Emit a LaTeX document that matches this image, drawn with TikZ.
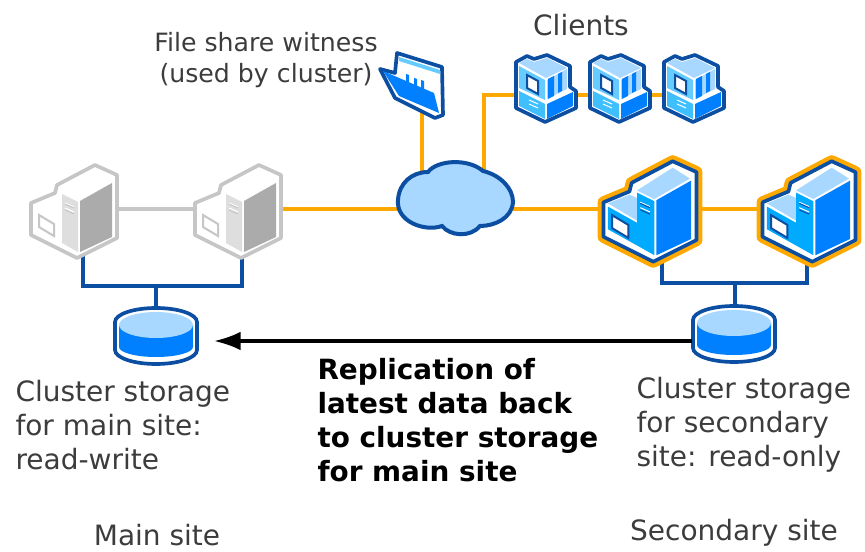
\documentclass[tikz,border=0pt]{standalone}
\usepackage{fontspec}
\usetikzlibrary{arrows.meta}
\setmainfont{DejaVu Sans}
\definecolor{navyline}{HTML}{0B4EA2}
\definecolor{faceblue}{HTML}{0080FF}
\definecolor{stripblue}{HTML}{00AAFF}
\definecolor{lightblue}{HTML}{A8D8FF}
\definecolor{halo}{HTML}{FFA800}
\definecolor{greyline}{HTML}{C6C6C6}
\definecolor{greyface}{HTML}{ABABAB}
\definecolor{greystrip}{HTML}{DEDEDE}
\definecolor{labelgrey}{HTML}{3C3C3C}
\tikzset{every picture/.style={line width=0.75pt}}
\tikzset{
	anchorbox/.style={inner sep=0pt, outer sep=0pt, minimum size=4pt},
	icon/.style={yscale=-1},
	lan/.style={draw=halo, line width=3pt},
	heartbeat/.style={draw=greyline, line width=3pt},
	fibre/.style={draw=navyline, line width=2.75pt},
	copyarrow/.style={draw=black, line width=2.5pt, -{Latex[length=20pt,width=14pt]}, shorten >=12pt},
	sitelabel/.style={font=\fontsize{21}{25.5}\selectfont, text=labelgrey, align=left, inner sep=0pt},
	footlabel/.style={font=\fontsize{21}{25.5}\selectfont, text=labelgrey, inner sep=0pt},
	boldlabel/.style={font=\fontsize{20.9}{25.5}\selectfont\bfseries, text=black, align=left, inner sep=0pt},
	witnesslabel/.style={font=\fontsize{18.9}{23}\selectfont, text=labelgrey, align=center, inner sep=0pt},
	pics/server/.style n args={6}{code={
		\draw [fill=white, draw=#1, line width=2.75pt, line join=round] (-43,-9) -- (-19,-19) -- (-17,-27) -- (21,-47) -- (43,-37) -- (43,26) -- (3,46) -- (-43,23) -- cycle;
		\fill [#2] (-12,-20) -- (21,-41) -- (37,-31) -- (4,-12) -- cycle;
		\fill [#2] (-39,-8) -- (-19,-16) -- (-12,-13) -- (-12,8) -- cycle;
		\fill [#5] (-39,-5) -- (-12,10) -- (-12,31) -- (-39,16) -- cycle;
		\draw [fill=white, draw=#6, line width=1.5pt] (-35,3) -- (-20,12) -- (-20,24) -- (-35,15) -- cycle;
		\fill [#3] (-12,-18) -- (4,-10) -- (4,40) -- (-12,31) -- cycle;
		\draw [white, line width=0.75pt] (-9,-9) -- (0,-5) (-9,-4) -- (0,0);
		\draw [#1, line width=0.75pt] (-9,-8) -- (0,-4) (-9,-2) -- (0,2);
		\fill [#4] (6,-11) -- (38,-29) -- (38,25) -- (6,40) -- cycle;
	}},
	pics/serverglow/.style={code={
		\draw [draw=halo, line width=9pt, line join=round] (-43,-9) -- (-19,-19) -- (-17,-27) -- (21,-47) -- (43,-37) -- (43,26) -- (3,46) -- (-43,23) -- cycle;
	}},
	pics/client/.style={code={
		\draw [fill=white, draw=navyline, line width=2.75pt, line join=round] (-30,-26) -- (-19,-32) -- (-12,-29) -- (1,-33) -- (24,-22) -- (24,-1) -- (30,3) -- (30,20) -- (-1,34) -- (-30,20) -- cycle;
		\fill [lightblue] (-27,-25) -- (-19,-29) -- (-12,-26) -- (1,-30) -- (21,-20) -- (0,-10) -- cycle;
		\fill [stripblue!60] (-27,-22) -- (-1,-8) -- (-1,12) -- (-27,0) -- cycle;
		\draw [fill=white, draw=navyline, line width=1.5pt] (-19,-13) -- (-8,-7) -- (-8,6) -- (-19,0) -- cycle;
		\fill [lightblue] (1,-8) -- (21,-19) -- (21,1) -- (1,11) -- cycle;
		\fill [faceblue] (2,-9) -- (8,-12) -- (8,8) -- (2,11) -- cycle;
		\fill [faceblue] (12,-14) -- (16,-16) -- (16,3) -- (12,5) -- cycle;
		\fill [stripblue!75] (-27,3) -- (-1,16) -- (-1,31) -- (-27,18) -- cycle;
		\draw [white] (-17,12) -- (-8,16) (-17,16) -- (-8,20);
		\fill [faceblue] (1,16) -- (27,4) -- (27,18) -- (1,31) -- cycle;
	}},
	pics/folder/.style={code={
		\draw [fill=white, draw=navyline, line width=2.75pt, line join=round] (-32,-16) -- (-17,-12) -- (-15,-32) -- (30,-18) -- (31,30) -- (23,33) -- (-17,13) -- cycle;
		\fill [stripblue!60] (-13,-28) -- (28,-15) -- (28,-11) -- (-13,-24) -- cycle;
		\fill [faceblue] (-6,-11) -- (-3,-10) -- (-3,-1) -- (-6,-2) -- cycle;
		\fill [faceblue] (2,-7) -- (5,-6) -- (5,3) -- (2,2) -- cycle;
		\fill [faceblue] (9,-5) -- (12,-4) -- (12,5) -- (9,4) -- cycle;
		\fill [faceblue] (-29,-14) -- (22,8) -- (27,28) -- (-13,11) -- cycle;
	}},
	pics/storage/.style={code={
		\draw [fill=white, draw=navyline, line width=2.75pt] (-41,0) arc [start angle=180, end angle=360, x radius=41, y radius=14] -- (41,28) arc [start angle=0, end angle=180, x radius=41, y radius=14] -- cycle;
		\fill [faceblue] (-37,3) -- (-37,25) arc [start angle=180, end angle=0, x radius=37, y radius=10] -- (37,3) -- cycle;
		\fill [lightblue] (0,3) ellipse [x radius=37, y radius=13];
	}}
}

\begin{document}
\begin{tikzpicture}[x=0.75pt,y=0.75pt,yscale=-1,xscale=1]
	\useasboundingbox (0,0) rectangle (865,552);

	% Anchors
	\node [anchorbox] (srvA) at (74,209) {};
	\node [anchorbox] (srvB) at (238,209) {};
	\node [anchorbox] (srvC) at (650,209) {};
	\node [anchorbox] (srvD) at (809,209) {};
	\node [anchorbox] (netcloud) at (455,209) {};
	\node [anchorbox] (witness) at (422,85) {};
	\node [anchorbox] (clientA) at (546,95) {};
	\node [anchorbox] (clientB) at (620,95) {};
	\node [anchorbox] (clientC) at (694,95) {};
	\node [anchorbox, minimum width=63pt, minimum height=51pt] (stgA) at (156,341) {};
	\node [anchorbox, minimum width=63pt, minimum height=51pt] (stgB) at (734,341) {};
	\coordinate (busA) at (156,286);
	\coordinate (busB) at (735,283);
	\coordinate (footA) at (83,240);
	\coordinate (footB) at (242,240);
	\coordinate (footC) at (662,240);
	\coordinate (footD) at (807,240);
	\coordinate (cloudtap) at (484,190);

	% Links
	\draw [heartbeat] (srvA) -- (srvB);
	\draw [lan] (srvB) -- (netcloud);
	\draw [lan] (netcloud) -- (srvC);
	\draw [lan] (srvC) -- (srvD);
	\draw [lan] (witness) -- (witness |- netcloud);
	\draw [lan] (clientC) -- (clientB);
	\draw [lan] (clientB) -- (clientA);
	\draw [lan] (clientA) -| (cloudtap);
	\draw [fibre] (footA) |- (busA) -| (footB);
	\draw [fibre] (busA) -- (stgA);
	\draw [fibre] (footC) |- (busB) -| (footD);
	\draw [fibre] (busB) -- (busB |- stgB);

	% Icons
	\pic [icon] at (74,212) {server={greyline}{white}{greystrip}{greyface}{white}{greyline}};
	\pic [icon] at (238,212) {server={greyline}{white}{greystrip}{greyface}{white}{greyline}};
	\pic [icon, scale=1.08] at (650,212) {serverglow};
	\pic [icon, scale=1.08] at (650,212) {server={navyline}{lightblue}{stripblue}{faceblue}{stripblue}{navyline}};
	\pic [icon, scale=1.08] at (809,212) {serverglow};
	\pic [icon, scale=1.08] at (809,212) {server={navyline}{lightblue}{stripblue}{faceblue}{stripblue}{navyline}};
	\pic [icon] at (546,88) {client};
	\pic [icon] at (620,88) {client};
	\pic [icon] at (694,88) {client};
	\pic [icon] at (412,85) {folder};
	\pic [icon] at (156,322) {storage};
	\pic [icon] at (734,320) {storage};

	% Cloud
	\draw [fill=lightblue, draw=navyline, line width=3pt] (398,200) .. controls (399,183) and (412,172) .. (428,172) .. controls (437,160) and (468,158) .. (483,171) .. controls (500,175) and (513,188) .. (513,202) .. controls (512,218) and (495,226) .. (480,226) .. controls (470,238) and (450,236) .. (442,226) .. controls (425,232) and (396,222) .. (398,200) -- cycle;

	% Replication
	\draw [copyarrow] (stgB.west) -- (stgA.east);

	% Text Node
	\node [witnesslabel] (witnesstext) at (266,60) {File share witness\\(used by cluster)};
	% Text Node
	\node [footlabel] (clientstext) at (581,25) {Clients};
	% Text Node
	\node [sitelabel, anchor=west] (mainstore) at (15,425) {Cluster storage\\for main site:\\read-write};
	% Text Node
	\node [sitelabel, anchor=west] (secstore) at (636,425) {Cluster storage\\for secondary\\site: read-only};
	% Text Node
	\node [boldlabel, anchor=west] (repltext) at (317,420) {Replication of\\latest data back\\to cluster storage\\for main site};
	% Text Node
	\node [footlabel] (mainsite) at (157,535) {Main site};
	% Text Node
	\node [footlabel] (secsite) at (734,533) {Secondary site};
\end{tikzpicture}
\end{document}
